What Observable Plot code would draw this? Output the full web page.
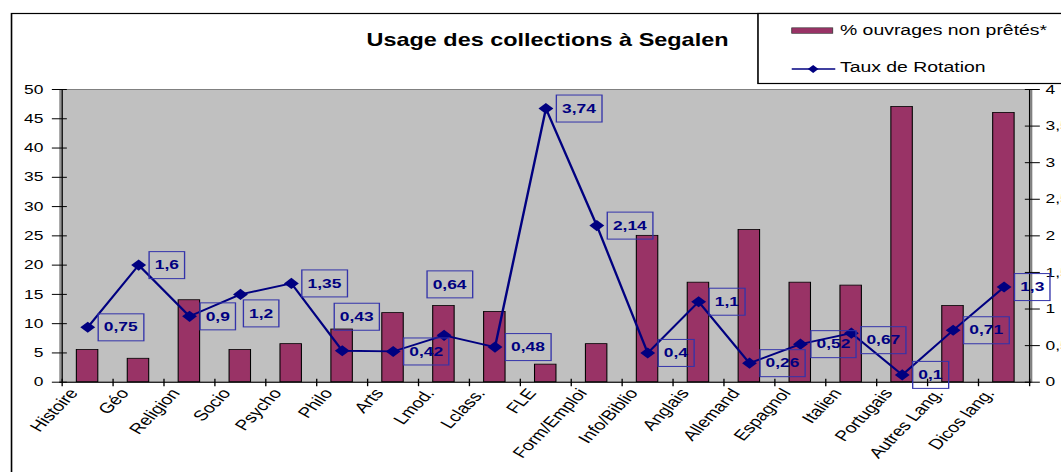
<!DOCTYPE html>
<html><head><meta charset="utf-8">
<script src="https://cdn.jsdelivr.net/npm/d3@7"></script>
<script src="https://cdn.jsdelivr.net/npm/@observablehq/plot@0.6"></script>
<style>
html,body{margin:0;padding:0;background:#fff;overflow:hidden;width:1061px;height:472px;}
#wrap{position:relative;width:792px;height:472px;transform-origin:0 0;}
</style></head><body><div id="wrap"></div>
<script>
const title = "Usage des collections à Segalen";
const categories = ["Histoire","Géo","Religion","Socio","Psycho","Philo","Arts","Lmod.","Lclass.","FLE","Form/Emploi","Info/Biblio","Anglais","Allemand","Espagnol","Italien","Portugais","Autres Lang.","Dicos lang."];
const nonLent = [5.5,4,14,5.5,6.5,9,11.8,13,12,3,6.5,25,17,26,17,16.5,47,13,46];
const rotation = [0.75,1.6,0.9,1.2,1.35,0.43,0.42,0.64,0.48,3.74,2.14,0.4,1.1,0.26,0.52,0.67,0.1,0.71,1.3];
const seriesNames = ["% ouvrages non prêtés*", "Taux de Rotation"];
const leftTicks = [0,5,10,15,20,25,30,35,40,45,50];
const rightTicks = [0,0.5,1,1.5,2,2.5,3,3.5,4];

const OUT_W = 1061, W = 792, H = 472, S = OUT_W / W;
const mL = 44.3, mR = W - 769.6, mT = 89, mB = H - 381.7;
const ratio = 50 / 4;
const plotW = W - mL - mR, plotH = H - mT - mB;
const step = plotW / categories.length;
const fmt = v => String(v).replace(".", ",");
const data = categories.map((c, i) => ({cat: c, pct: nonLent[i], rot: rotation[i]}));
const font = "'Liberation Sans', Arial, Helvetica, sans-serif";
const navy = "#000080", plum = "#993366";

// label nudges (outer px) for labels that were moved off the default right position
const nudge = {"Socio": [-7.5, 19], "Philo": [-18.5, -34], "Lmod.": [-27.5, -51], "Italien": [-1, 7]};
const labelMark = (subset, ndx, ndy) => Plot.text(subset, {
  x: "cat", y: d => d.rot * ratio, text: d => fmt(d.rot),
  textAnchor: "start", lineAnchor: "middle", dx: 12 + ndx / S, dy: ndy,
  fill: navy, fontWeight: "bold", fontSize: 13, ariaDescription: "data-label"
});

const chart = Plot.plot({
  width: W, height: H, marginLeft: mL, marginRight: mR, marginTop: mT, marginBottom: mB,
  style: {fontFamily: font, fontSize: "13px", background: "transparent", overflow: "visible"},
  x: {type: "band", domain: categories, paddingInner: 0.58, paddingOuter: 0.29, axis: null},
  y: {domain: [0, 50], axis: null},
  marks: [
    Plot.frame({fill: "#c0c0c0", stroke: "#808080"}),
    Plot.barY(data, {x: "cat", y: "pct", fill: plum, stroke: "#000", strokeWidth: 0.8}),
    Plot.ruleY([0], {stroke: "#000"}),
    Plot.ruleX([categories[0]], {dx: -step / 2, stroke: "#000"}),
    Plot.ruleX([categories[categories.length - 1]], {dx: step / 2, stroke: "#000"}),
    Plot.ruleX(categories, {dx: -step / 2, insetTop: plotH - 3, insetBottom: -4.5, stroke: "#000"}),
    Plot.ruleX([categories[categories.length - 1]], {dx: step / 2, insetTop: plotH - 3, insetBottom: -4.5, stroke: "#000"}),
    Plot.axisY(leftTicks, {anchor: "left", label: null, tickSize: 11.2, dx: 5.6, tickPadding: 6.8, tickFormat: d => String(d), fontSize: 13}),
    Plot.axisY(rightTicks.map(t => t * ratio), {anchor: "right", label: null, tickSize: 11.2, dx: -5.6, tickPadding: 4.8, tickFormat: d => fmt(d / ratio), fontSize: 13}),
    Plot.text(categories, {x: d => d, text: d => d, frameAnchor: "bottom", rotate: -53.3, textAnchor: "end", lineAnchor: "middle", dx: -10.4, dy: 8.3, fontSize: 14.5, fill: "#000"}),
    Plot.line(data, {x: "cat", y: d => d.rot * ratio, stroke: navy, strokeWidth: 1.8}),
    Plot.dot(data, {x: "cat", y: d => d.rot * ratio, symbol: "diamond2", r: 5, fill: navy, stroke: "none"}),
    labelMark(data.filter(d => !(d.cat in nudge)), 0, 0),
    ...Object.entries(nudge).map(([c, [a, b]]) => labelMark(data.filter(d => d.cat === c), a, b))
  ]
});

const wrap = document.getElementById("wrap");
wrap.style.transform = `scaleX(${S})`;
wrap.appendChild(chart);

const svg = d3.select(chart);
// boxes around data labels
svg.selectAll('g[aria-description="data-label"] text').each(function() {
  const b = this.getBBox();
  const cy = b.y + b.height / 2 + 0.5;
  d3.select(this.parentNode).insert("rect", () => this)
    .attr("transform", this.getAttribute("transform"))
    .attr("x", b.x - 4.2).attr("y", cy - 13.5)
    .attr("width", b.width + 8.4).attr("height", 27)
    .attr("fill", "none").attr("stroke", "#3333aa").attr("stroke-width", 1);
});

// outer chart frame
svg.append("rect").attr("x", 8.6).attr("y", 13.5).attr("width", 900).attr("height", 700)
  .attr("fill", "none").attr("stroke", "#000").attr("stroke-width", 1.2);
// title
svg.append("text").attr("x", 408.7).attr("y", 46).attr("text-anchor", "middle")
  .attr("font-family", font).attr("font-weight", "bold").attr("font-size", 17.5).attr("fill", "#000").text(title);
// legend
const lg = svg.append("g").attr("text-anchor", "start");
lg.append("rect").attr("x", 565.8).attr("y", 13.5).attr("width", 400).attr("height", 70)
  .attr("fill", "#fff").attr("stroke", "#000").attr("stroke-width", 1.2);
lg.append("rect").attr("x", 591).attr("y", 27.8).attr("width", 30.6).attr("height", 5.5)
  .attr("fill", plum).attr("stroke", "#333").attr("stroke-width", 0.6);
lg.append("text").attr("x", 627).attr("y", 35).attr("text-anchor", "start").attr("font-family", font).attr("font-size", 14.5).attr("fill", "#000").text(seriesNames[0]);
lg.append("line").attr("x1", 591).attr("x2", 623.5).attr("y1", 69).attr("y2", 69).attr("stroke", navy).attr("stroke-width", 1.5);
lg.append("path").attr("d", d3.symbol(d3.symbolDiamond2, 40)()).attr("transform", "translate(607,69)").attr("fill", navy);
lg.append("text").attr("x", 627).attr("y", 72).attr("text-anchor", "start").attr("font-family", font).attr("font-size", 14.5).attr("fill", "#000").text(seriesNames[1]);
</script></body></html>
